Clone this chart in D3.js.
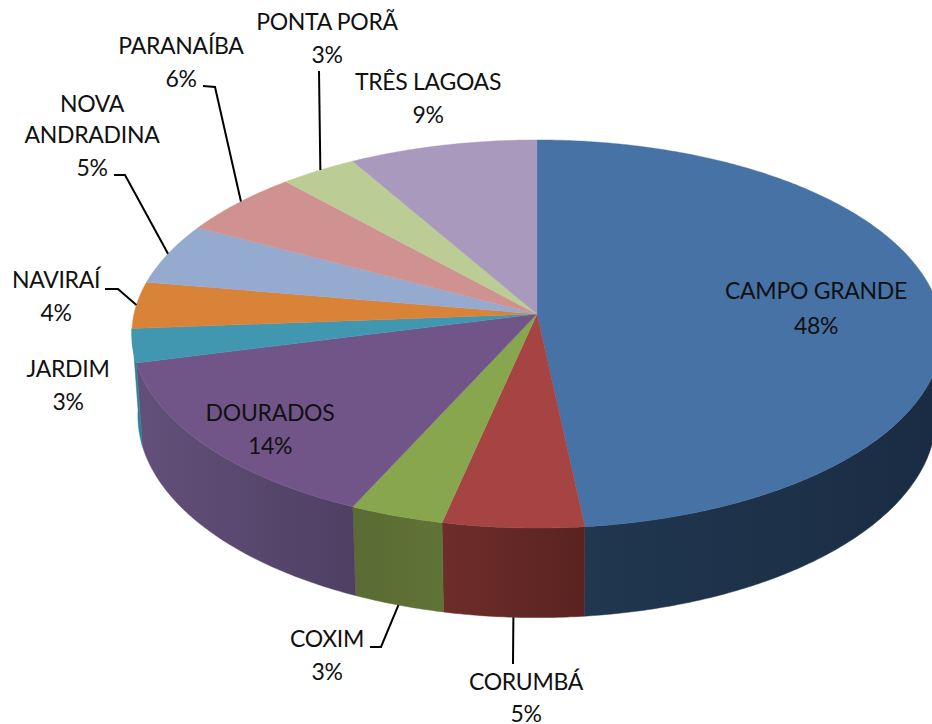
<!DOCTYPE html>
<html><head><meta charset="utf-8">
<script src="https://cdn.jsdelivr.net/npm/d3@7"></script>
<style>html,body{margin:0;padding:0;background:#fff;overflow:hidden}svg{display:block}text{font-family:Lato,"Open Sans",sans-serif;fill:#111}</style>
</head><body><div id="chart"></div>
<script>
// Data
const categories = ["CAMPO GRANDE","CORUMBÁ","COXIM","DOURADOS","JARDIM","NAVIRAÍ","NOVA ANDRADINA","PARANAÍBA","PONTA PORÃ","TRÊS LAGOAS"];
const values = [48.3,5.1,3.4,14.2,2.8,3.9,5.1,5.5,3.4,8.3];
const pctLabels = ["48%","5%","3%","14%","3%","4%","5%","6%","3%","9%"];
const topColors = ["#4672a6","#a54442","#88a64e","#715589","#4097af","#d98339","#94aacf","#d09290","#bbcd94","#a99abd"];
const wallLeft  = ["#20374f","#6d2e2b","#5a6b33","#63507a","#2f7f95","#a0612a","#6d7f9c","#9a6c6a","#8a9a6d","#7d718d"];
const wallRight = ["#1a2c43","#5a2320","#607337","#4f3f63","#2f7f95","#a0612a","#6d7f9c","#9a6c6a","#8a9a6d","#7d718d"];
const wallSliceCount = 5; // campo grande .. jardim show a side wall

const W = 932, H = 724;
const apex = {x:537, y:314};
const persp = {A:403, B:192, k:0.103};
const depth = {dy:81, sy:1.04, sx:0.985};

function project(angle, bottom){
  const u = Math.sin(angle), v = -Math.cos(angle);
  const w = 1 - persp.k*v;
  let dx = persp.A*u/w, dy = persp.B*v/w;
  if(bottom){ dx *= depth.sx; dy = dy*depth.sy + depth.dy; }
  return [apex.x+dx, apex.y+dy];
}
function arcPts(a0,a1,bottom){
  const n = Math.max(2,Math.ceil((a1-a0)/0.01));
  return d3.range(n+1).map(i=>project(a0+(a1-a0)*i/n,bottom));
}
const line = d3.line();
const arcs = d3.pie().sort(null).value(d=>d)(values);
const svg = d3.select("#chart").append("svg").attr("width",W).attr("height",H);
const defs = svg.append("defs");

// side walls: only the near part of the disc faces the viewer
const nearStart = Math.PI/2;
arcs.slice(0,wallSliceCount).forEach((a,i)=>{
  const a0 = Math.max(a.startAngle,nearStart), a1 = a.endAngle;
  if(a1<=a0) return;
  const top = arcPts(a0,a1,false), bot = arcPts(a0,a1,true).reverse();
  const xs = top.concat(bot).map(p=>p[0]);
  const g = defs.append("linearGradient").attr("id","w"+i).attr("gradientUnits","userSpaceOnUse")
    .attr("x1",d3.min(xs)).attr("x2",d3.max(xs)).attr("y1",0).attr("y2",0);
  g.append("stop").attr("offset",0).attr("stop-color",wallLeft[i]);
  g.append("stop").attr("offset",1).attr("stop-color",wallRight[i]);
  svg.append("path").attr("d",line(top.concat(bot))+"Z").attr("fill",`url(#w${i})`)
    .attr("stroke",`url(#w${i})`).attr("stroke-width",0.5);
});
// top face
arcs.forEach((a,i)=>{
  const pts = [[apex.x,apex.y]].concat(arcPts(a.startAngle,a.endAngle,false));
  svg.append("path").attr("d",line(pts)+"Z").attr("fill",topColors[i])
    .attr("stroke",topColors[i]).attr("stroke-width",0.4);
});

// leader lines: elbow points, anchored on the slice's rim at a fraction of its sweep
const leaders = [
  {i:1, frac:0.50, bottom:true,  path:[[513,664]]},
  {i:2, frac:0.50, bottom:true,  path:[[370,647],[381,647]]},
  {i:5, frac:0.50, bottom:false, path:[[105,289],[118,289]]},
  {i:6, frac:0.50, bottom:false, path:[[114,175],[125,175]]},
  {i:7, frac:0.53, bottom:false, path:[[203,86],[215,87]]},
  {i:8, frac:0.53, bottom:false, path:[[319,71]]}
];
leaders.forEach(l=>{
  const a = arcs[l.i];
  const end = project(a.startAngle+(a.endAngle-a.startAngle)*l.frac,l.bottom);
  svg.append("path").attr("d",line(l.path.concat([end]))).attr("fill","none")
    .attr("stroke","#000").attr("stroke-width",2);
});

// labels
const labelPos = [
  {x:816,y:[299,334]},{x:526,y:[690,722]},{x:327,y:[647,680]},{x:270,y:[421,454]},
  {x:68,y:[377,410]},{x:56,y:[288,321]},{x:92,y:[112,143,176]},{x:181,y:[54,87]},
  {x:327,y:[30,63]},{x:428,y:[90,123]}
];
categories.forEach((c,i)=>{
  const p = labelPos[i];
  const lines = p.y.length===3 ? c.split(" ").concat(pctLabels[i]) : [c,pctLabels[i]];
  lines.forEach((t,k)=>svg.append("text").attr("x",p.x).attr("y",p.y[k])
    .attr("text-anchor","middle").attr("font-size",23).attr("letter-spacing",-0.3).text(t));
});
</script></body></html>
